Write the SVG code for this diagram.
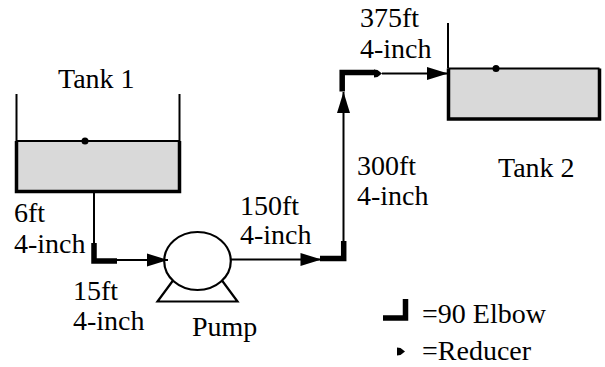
<svg xmlns="http://www.w3.org/2000/svg" width="605" height="367" viewBox="0 0 605 367">
<style>
.pipe{stroke:#000;stroke-width:2;fill:none}
.elbow{stroke:#000;stroke-width:5.5;fill:none;stroke-linejoin:miter;stroke-linecap:butt}
.wall{stroke:#000;stroke-width:2;fill:none}
.thick{stroke:#000;stroke-width:3.5;fill:none;stroke-linejoin:miter}
.liquid{fill:#d9d9d9;stroke:none}
.pump{stroke:#000;stroke-width:2.2;fill:#fff}
.lbl{font-family:'Liberation Serif','DejaVu Serif','Noto Serif',serif;font-size:28px;fill:#000}
</style>
<defs>
<marker id="arr" markerUnits="userSpaceOnUse" markerWidth="21" markerHeight="13" refX="21" refY="6.5" orient="auto" overflow="visible">
<path d="M0,0 L21,6.5 L0,13 z" fill="#000"/>
</marker>
<path id="reducer" d="M0,0 L3.5,0.5 L8,4 L3.5,7.5 L0,8 z" fill="#000"/>
</defs>
<rect width="605" height="367" fill="#fff"/>

<g id="tank1">
<rect class="liquid" x="16.5" y="141" width="163" height="50.5"/>
<line class="wall" x1="16.5" y1="141" x2="179.5" y2="141"/>
<line class="wall" x1="16.5" y1="94" x2="16.5" y2="141"/>
<line class="wall" x1="179.5" y1="94" x2="179.5" y2="141"/>
<polyline class="thick" points="16.5,141 16.5,191.5 179.5,191.5 179.5,141"/>
<circle cx="85" cy="141" r="3.5" fill="#000"/>
<text class="lbl" x="58" y="88">Tank 1</text>
</g>

<g id="tank2">
<rect class="liquid" x="448.5" y="68.5" width="151" height="50.5"/>
<line class="wall" x1="448.5" y1="68.5" x2="599.5" y2="68.5"/>
<line class="wall" x1="448" y1="23" x2="448" y2="68.5"/>
<polyline class="thick" points="448.5,68.5 448.5,119 599.5,119 599.5,68.5"/>
<circle cx="496" cy="68.5" r="3.5" fill="#000"/>
<text class="lbl" x="498" y="177">Tank 2</text>
</g>

<g id="pump">
<ellipse class="pump" cx="197.5" cy="261" rx="33.3" ry="29"/>
<polyline class="pump" points="173,280.5 157.5,301.5 237.5,301.5 222,280.5" style="fill:none"/>
<text class="lbl" x="192" y="336">Pump</text>
</g>

<g id="connectors">
<line class="pipe" x1="94" y1="193" x2="94" y2="261"/>
<polyline class="elbow" points="94,243 94,261 117,261"/>
<line class="pipe" x1="117" y1="260" x2="168" y2="260" marker-end="url(#arr)"/>
<line class="pipe" x1="231" y1="259.5" x2="321.5" y2="259.5" marker-end="url(#arr)"/>
<polyline class="elbow" points="320,258.5 343.7,258.5 343.7,241"/>
<line class="pipe" x1="343.5" y1="241" x2="343.5" y2="92" marker-end="url(#arr)"/>
<polyline class="elbow" points="342.2,91.5 342.2,72.5 375,72.5"/>
<use href="#reducer" x="374" y="69.5"/>
<line class="pipe" x1="382" y1="73.5" x2="448" y2="73.5" marker-end="url(#arr)"/>
</g>

<g id="labels">
<text class="lbl" x="14" y="222">6ft</text>
<text class="lbl" x="14" y="253">4-inch</text>
<text class="lbl" x="73" y="300">15ft</text>
<text class="lbl" x="73" y="330">4-inch</text>
<text class="lbl" x="240" y="215">150ft</text>
<text class="lbl" x="240" y="244">4-inch</text>
<text class="lbl" x="357" y="175">300ft</text>
<text class="lbl" x="357" y="205">4-inch</text>
<text class="lbl" x="360" y="27">375ft</text>
<text class="lbl" x="360" y="58">4-inch</text>
</g>

<g id="legend">
<polyline class="elbow" points="383,318 405.5,318 405.5,299"/>
<text class="lbl" x="422" y="323">=90 Elbow</text>
<use href="#reducer" x="397" y="347.5"/>
<text class="lbl" x="422" y="360">=Reducer</text>
</g>
</svg>
